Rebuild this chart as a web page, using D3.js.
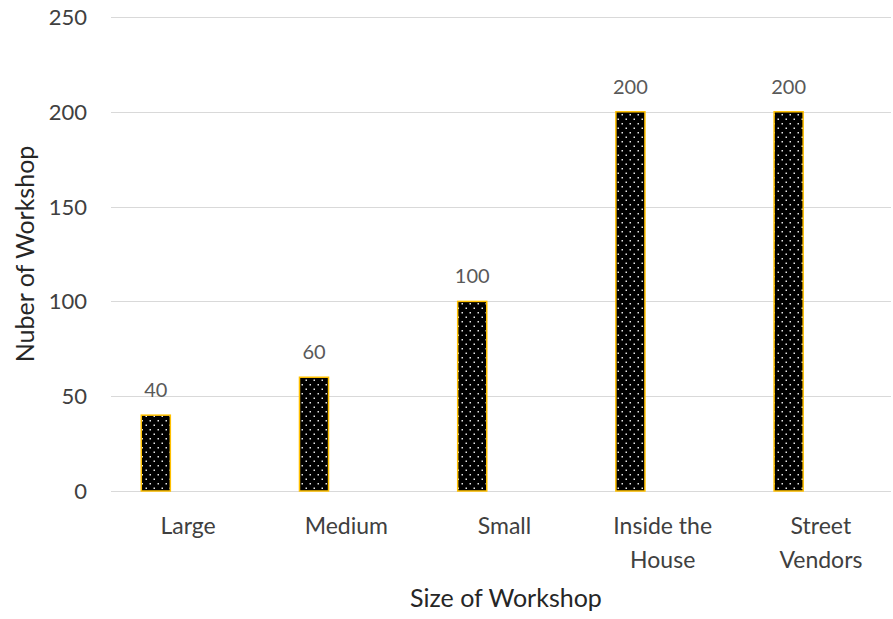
<!DOCTYPE html>
<html>
<head>
<meta charset="utf-8">
<script src="https://cdn.jsdelivr.net/npm/d3@7"></script>
<style>
  html, body { margin: 0; padding: 0; background: #fff; overflow: hidden; }
  svg text { font-family: Lato, "Open Sans", sans-serif; }
</style>
</head>
<body>
<svg id="chart" width="893" height="619"></svg>
<script>
// Workshops by size
const categories = [["Large"], ["Medium"], ["Small"], ["Inside the", "House"], ["Street", "Vendors"]];
const values = [40, 60, 100, 200, 200];
const yTicks = [0, 50, 100, 150, 200, 250];
const series = ["Workshops", "s2", "s3"]; // clustered slots; only the first carries data
const yTitle = "Nuber of Workshop";
const xTitle = "Size of Workshop";

const svg = d3.select("#chart");
const W = 893, H = 619;
const plot = { left: 109, right: 900, top: 17, bottom: 491 };

const keys = categories.map(c => c.join(" "));
const x = d3.scaleBand().domain(keys).range([plot.left, plot.right]).padding(0);
const xs = d3.scaleBand().domain(series).range([0, x.bandwidth()]).paddingInner(0.1).paddingOuter(1.0);
const y = d3.scaleLinear().domain([0, 250]).range([plot.bottom, plot.top]);

// dotted fill
const defs = svg.append("defs");
const pat = defs.append("pattern").attr("id", "dots")
  .attr("patternUnits", "userSpaceOnUse").attr("width", 8).attr("height", 9);
pat.append("rect").attr("width", 8).attr("height", 9).attr("fill", "#000");
pat.append("rect").attr("x", 1.5).attr("y", 1.5).attr("width", 1.5).attr("height", 1.5).attr("fill", "#e8e8e8");
pat.append("rect").attr("x", 5.5).attr("y", 6).attr("width", 1.5).attr("height", 1.5).attr("fill", "#e8e8e8");

// gridlines
svg.append("g").selectAll("line").data(yTicks).join("line")
  .attr("x1", 111).attr("x2", 891)
  .attr("y1", d => Math.round(y(d)) + 0.5).attr("y2", d => Math.round(y(d)) + 0.5)
  .attr("stroke", "#d9d9d9").attr("stroke-width", 1);

// y tick labels
svg.append("g").selectAll("text").data(yTicks).join("text")
  .attr("x", 87).attr("y", d => y(d) + 8)
  .attr("text-anchor", "end").attr("font-size", 22).attr("fill", "#404040")
  .text(d => d);

// bars
const barX = k => x(k) + xs(series[0]);
svg.append("g").selectAll("rect").data(values).join("rect")
  .attr("x", (d, i) => barX(keys[i]))
  .attr("y", d => y(d))
  .attr("width", xs.bandwidth())
  .attr("height", d => y(0) - y(d))
  .attr("fill", "url(#dots)")
  .attr("stroke", "#ffc000").attr("stroke-width", 1.5);

// value labels
svg.append("g").selectAll("text").data(values).join("text")
  .attr("x", (d, i) => barX(keys[i]) + xs.bandwidth() / 2)
  .attr("y", d => y(d) - 18)
  .attr("text-anchor", "middle").attr("font-size", 20).attr("fill", "#595959")
  .text(d => d);

// category labels
const cat = svg.append("g").selectAll("text").data(categories).join("text")
  .attr("text-anchor", "middle").attr("font-size", 23).attr("fill", "#404040")
  .attr("transform", (d, i) => `translate(${x(keys[i]) + x.bandwidth() / 2},534)`);
cat.selectAll("tspan").data(d => d).join("tspan")
  .attr("x", 0).attr("y", (d, j) => j * 34).text(d => d);

// axis titles
svg.append("text")
  .attr("transform", `translate(34,${(y(0) + y(250)) / 2}) rotate(-90)`)
  .attr("text-anchor", "middle").attr("font-size", 25).attr("fill", "#262626")
  .text(yTitle);
svg.append("text")
  .attr("x", 506).attr("y", 607)
  .attr("text-anchor", "middle").attr("font-size", 25).attr("fill", "#262626")
  .text(xTitle);
</script>
</body>
</html>
